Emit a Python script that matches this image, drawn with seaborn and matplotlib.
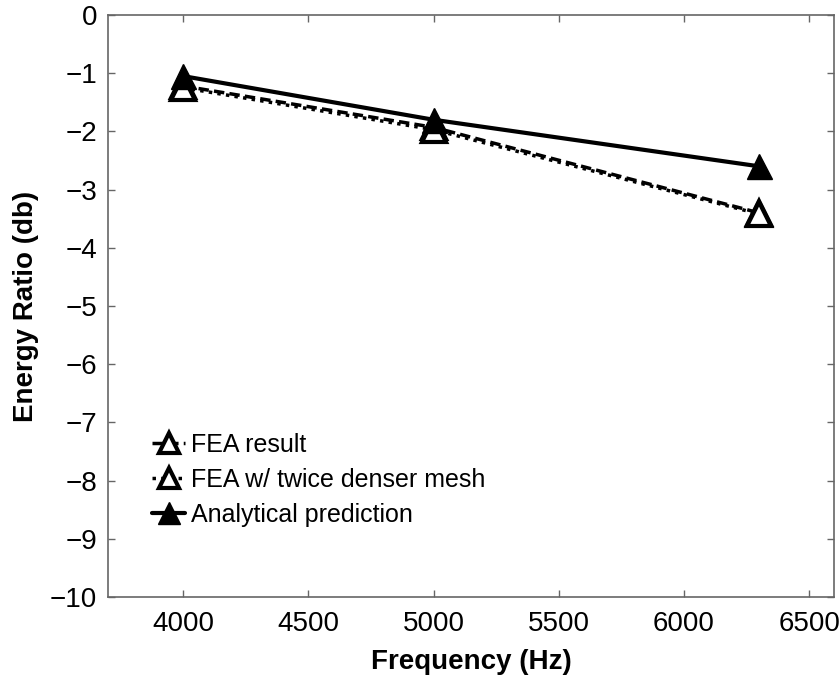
import matplotlib
matplotlib.use("Agg")
import matplotlib.pyplot as plt
import seaborn as sns
import pandas as pd

freq = [4000, 5000, 6300]
fea = [-1.22, -1.93, -3.40]
fea_dense = [-1.25, -1.97, -3.42]
analytical = [-1.05, -1.80, -2.60]

sns.set_style("ticks")
plt.rcParams['font.family'] = ['Liberation Sans', 'DejaVu Sans']
plt.rcParams['text.color'] = 'black'
plt.rcParams['axes.labelcolor'] = 'black'

fig = plt.figure(figsize=(8.4, 6.75), dpi=100)
ax = fig.add_axes([0.1286, 0.1156, 0.8644, 0.8622])

df = pd.DataFrame({'f': freq, 'fea': fea, 'dense': fea_dense, 'ana': analytical})

sns.lineplot(data=df, x='f', y='fea', ax=ax, color='black', lw=2.5, linestyle=(0, (3, 1.5)),
             marker='^', markersize=17, markerfacecolor='white', markeredgecolor='black',
             markeredgewidth=3, label='FEA result')
sns.lineplot(data=df, x='f', y='dense', ax=ax, color='black', lw=2.5, linestyle=(0, (1, 1.5)),
             marker='^', markersize=17, markerfacecolor='white', markeredgecolor='black',
             markeredgewidth=3, label='FEA w/ twice denser mesh')
sns.lineplot(data=df, x='f', y='ana', ax=ax, color='black', lw=3, linestyle='-',
             marker='^', markersize=18, markerfacecolor='black', markeredgecolor='black',
             markeredgewidth=1, label='Analytical prediction')

ax.set_xlim(3700, 6600)
ax.set_ylim(-10, 0)
ax.set_xticks([4000, 4500, 5000, 5500, 6000, 6500])
ax.set_yticks(range(-10, 1))
ax.tick_params(direction='in', length=5, width=1, colors='#666666', labelcolor='black',
               labelsize=20, top=True, right=True)
ax.tick_params(axis='x', pad=10)
ax.tick_params(axis='y', pad=8)
for s in ax.spines.values():
    s.set_color('#666666')
    s.set_linewidth(1.2)

ax.set_xlabel('Frequency (Hz)', fontsize=20, fontweight='bold', labelpad=9)
ax.set_ylabel('Energy Ratio (db)', fontsize=20, fontweight='bold', labelpad=8)

leg = ax.legend(loc='lower left', bbox_to_anchor=(0.037, 0.09), frameon=False, fontsize=18,
                handlelength=1.3, handletextpad=0.25, labelspacing=0.45, borderpad=0.2,
                markerscale=0.85)
for t in leg.get_texts():
    t.set_color('black')

fig.savefig('out.png', dpi=100)
